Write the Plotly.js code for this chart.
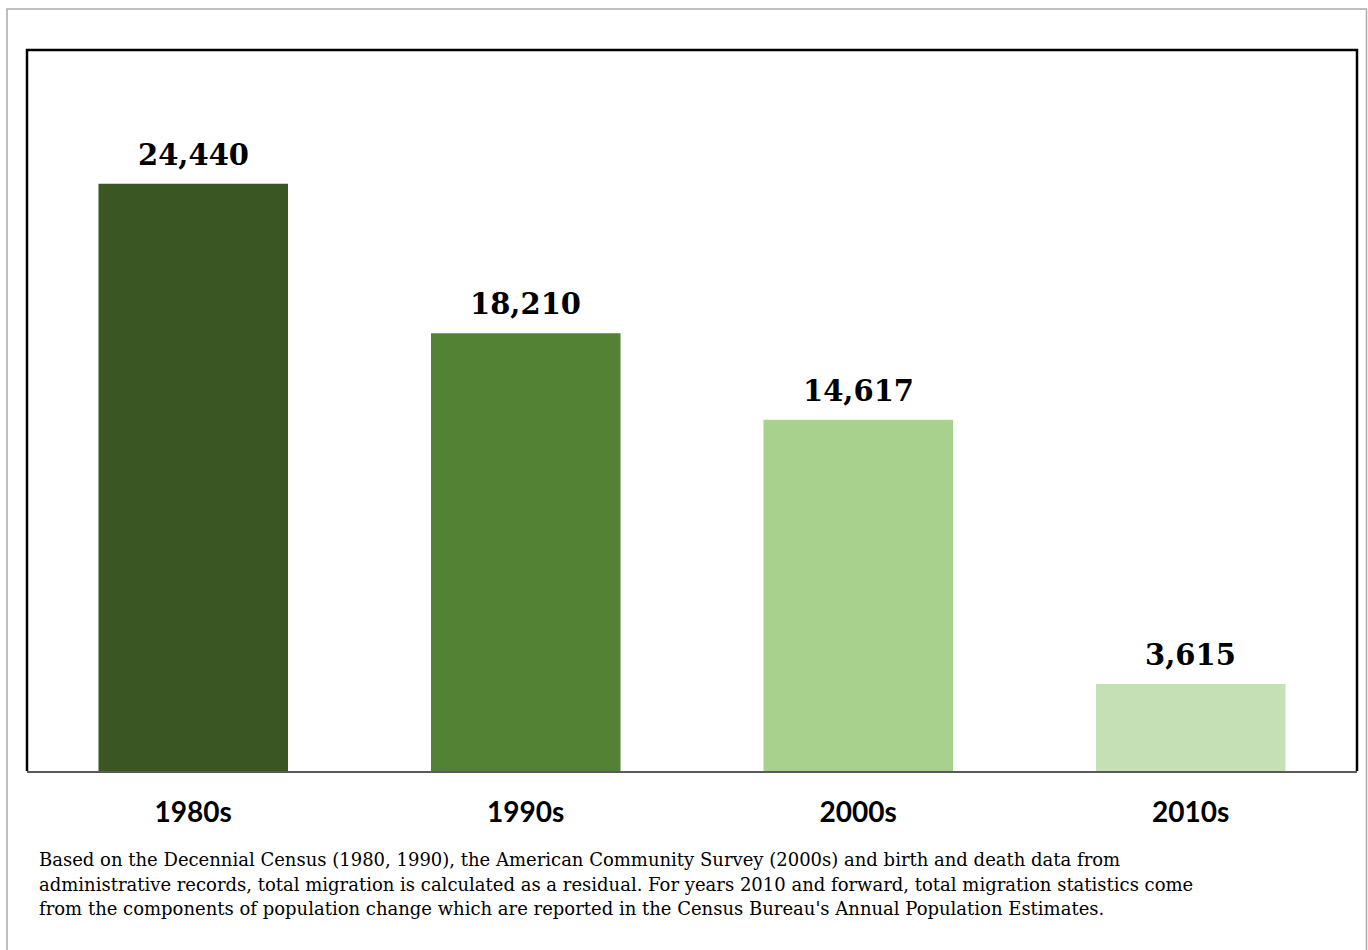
<!DOCTYPE html>
<html>
<head>
<meta charset="utf-8">
<script src="https://cdn.plot.ly/plotly-3.0.1.min.js"></script>
<style>
  html, body { margin: 0; padding: 0; background: #ffffff; }
  #chart { width: 1368px; height: 950px; }
</style>
</head>
<body>
<div id="chart"></div>
<script>
// ---- data ----
const decades = ["1980s", "1990s", "2000s", "2010s"];
const migration = [24440, 18210, 14617, 3615];
const valueLabels = ["24,440", "18,210", "14,617", "3,615"];
const barColors = ["#3a5623", "#548235", "#a9d18e", "#c5e0b4"];
const footnoteLines = [
  "Based on the Decennial Census (1980, 1990), the American Community Survey (2000s) and birth and death data from",
  "administrative records, total migration is calculated as a residual. For years 2010 and forward, total migration statistics come",
  "from the components of population change which are reported in the Census Bureau's Annual Population Estimates."
];

// ---- geometry helpers (pixel -> paper) ----
const W = 1368, H = 950;
const mL = 27, mR = 11, mT = 50, mB = 179;
const pw = W - mL - mR, ph = H - mT - mB;
const px = x => (x - mL) / pw;
const py = y => (H - mB - y) / ph;

const trace = {
  type: "bar",
  x: decades,
  y: migration,
  marker: { color: barColors, line: { width: 0 } },
  hoverinfo: "skip"
};

const annotations = decades.map((d, i) => ({
  x: d, y: migration[i], xref: "x", yref: "y",
  text: valueLabels[i], showarrow: false,
  xanchor: "center", yanchor: "bottom", yshift: 10,
  font: { family: "DejaVu Serif, serif", size: 29, color: "#000000", weight: "bold" }
}));

footnoteLines.forEach((t, i) => {
  annotations.push({
    x: px(37), y: py(859 + i * 25), xref: "paper", yref: "paper",
    text: t, showarrow: false, xanchor: "left", yanchor: "middle",
    font: { family: "DejaVu Serif, serif", size: 18, color: "#000000" }
  });
});

const layout = {
  width: W, height: H,
  margin: { l: mL, r: mR, t: mT, b: mB, pad: 0 },
  paper_bgcolor: "#ffffff",
  plot_bgcolor: "#ffffff",
  showlegend: false,
  bargap: 0.43,
  xaxis: {
    type: "category",
    range: [-0.5, 3.5],
    showgrid: false, zeroline: false,
    showline: true, linecolor: "#595959", linewidth: 2,
    ticks: "", ticklabelstandoff: 15,
    tickfont: { family: "Lato, sans-serif", size: 28, color: "#000000", weight: "bold" },
    fixedrange: true
  },
  yaxis: {
    range: [0, 30000],
    showgrid: false, zeroline: false, showline: false,
    showticklabels: false, ticks: "",
    fixedrange: true
  },
  annotations: annotations,
  shapes: [
    {
      type: "path", xref: "paper", yref: "paper",
      path: "M0,0 L0,1 L1,1 L1,0",
      line: { color: "#000000", width: 2.5 }
    },
    {
      type: "rect", xref: "paper", yref: "paper",
      x0: px(7), x1: px(1366.5), y0: py(9), y1: py(975),
      line: { color: "#ababab", width: 1.5 },
      fillcolor: "rgba(0,0,0,0)"
    }
  ]
};

Plotly.newPlot("chart", [trace], layout, { displayModeBar: false, staticPlot: true });
</script>
</body>
</html>
